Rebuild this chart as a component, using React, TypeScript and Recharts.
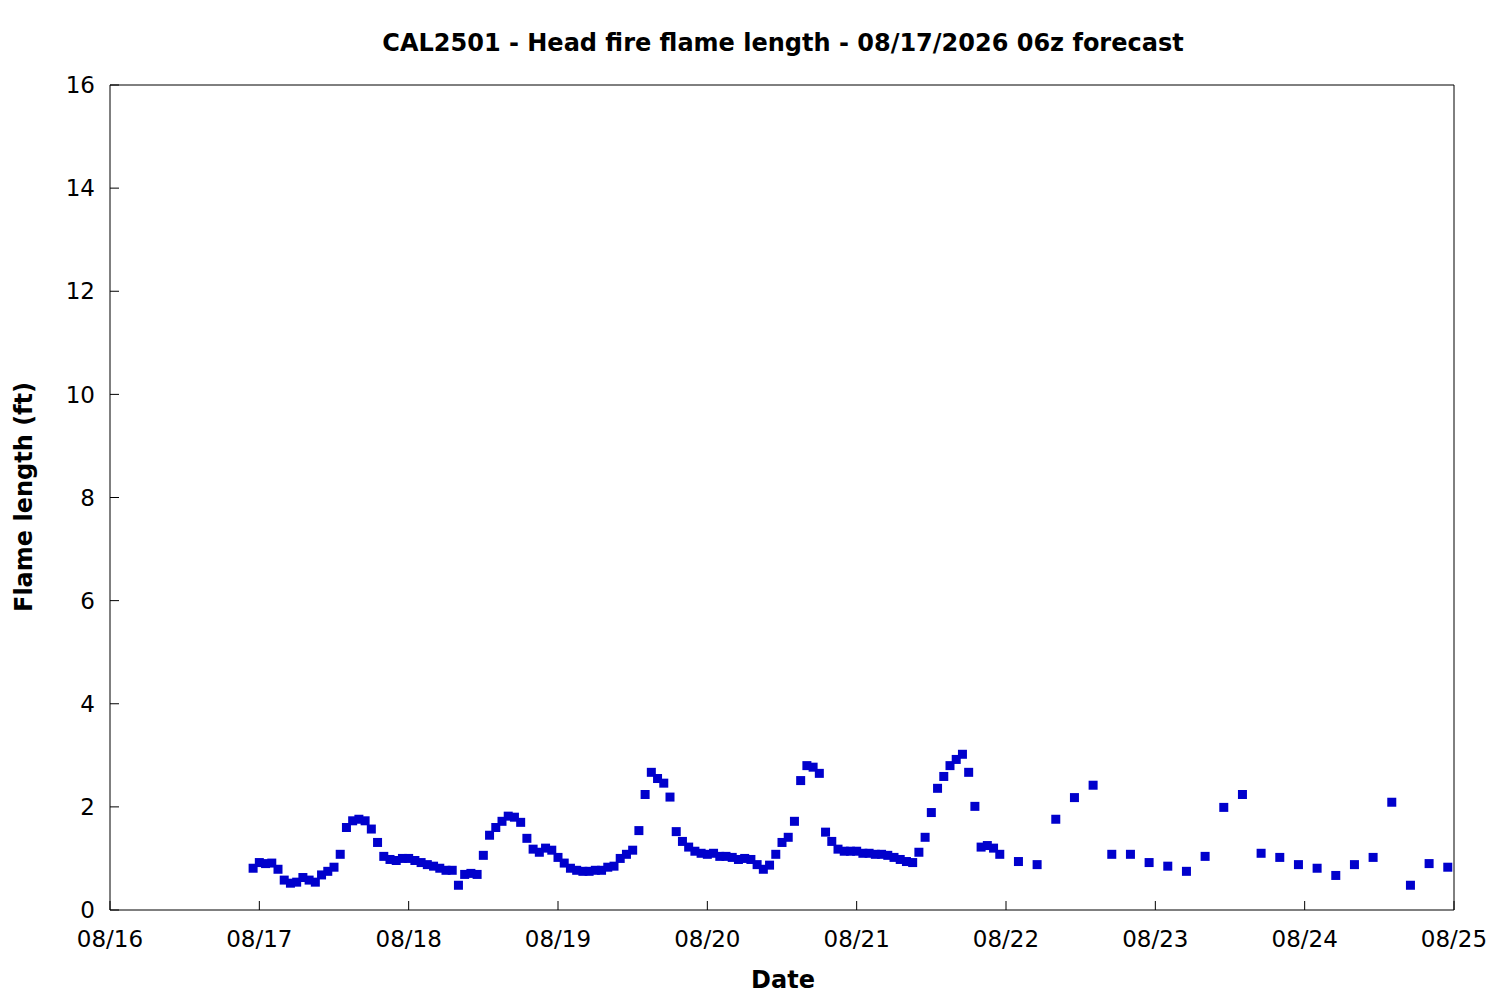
import { ScatterChart, Scatter, XAxis, YAxis } from 'recharts';

const chartTitle = 'CAL2501 - Head fire flame length - 08/17/2026 06z forecast';
const xTitle = 'Date';
const yTitle = 'Flame length (ft)';

// x axis: hours since 08/16 00z
const dateTicks = [0, 24, 48, 72, 96, 120, 144, 168, 192, 216];
const dateLabels = ['08/16', '08/17', '08/18', '08/19', '08/20', '08/21', '08/22', '08/23', '08/24', '08/25'];
const flameTicks = [0, 2, 4, 6, 8, 10, 12, 14, 16];

// forecast valid times (hours since 08/16 00z)
const forecastHours = [
  23,
  24, 25, 26, 27, 28, 29, 30, 31, 32, 33, 34, 35, 36, 37, 38, 39, 40, 41, 42, 43, 44, 45, 46, 47,
  48, 49, 50, 51, 52, 53, 54, 55, 56, 57, 58, 59, 60, 61, 62, 63, 64, 65, 66, 67, 68, 69, 70, 71,
  72, 73, 74, 75, 76, 77, 78, 79, 80, 81, 82, 83, 84, 85, 86, 87, 88, 89, 90, 91, 92, 93, 94, 95,
  96, 97, 98, 99, 100, 101, 102, 103, 104, 105, 106, 107, 108, 109, 110, 111, 112, 113, 114, 115, 116, 117, 118, 119,
  120, 121, 122, 123, 124, 125, 126, 127, 128, 129, 130, 131, 132, 133, 134, 135, 136, 137, 138, 139, 140, 141, 142, 143,
  146, 149, 152, 155, 158, 161, 164, 167,
  170, 173, 176, 179, 182, 185, 188, 191,
  194, 197, 200, 203, 206, 209, 212, 215,
];

// head fire flame length (ft)
const flameLength = [
  0.81,
  0.92, 0.90, 0.91, 0.79, 0.58, 0.52, 0.54, 0.63, 0.58, 0.54, 0.68, 0.75, 0.83, 1.08, 1.60, 1.73, 1.76, 1.73, 1.57, 1.31, 1.04, 0.98, 0.96, 1.00,
  1.00, 0.96, 0.92, 0.88, 0.85, 0.81, 0.77, 0.77, 0.48, 0.69, 0.71, 0.69, 1.06, 1.45, 1.60, 1.72, 1.82, 1.80, 1.70, 1.39, 1.18, 1.12, 1.20, 1.16,
  1.02, 0.91, 0.81, 0.77, 0.75, 0.75, 0.77, 0.77, 0.83, 0.85, 1.00, 1.08, 1.16, 1.54, 2.24, 2.67, 2.55, 2.46, 2.19, 1.52, 1.33, 1.22, 1.14, 1.10,
  1.08, 1.10, 1.04, 1.04, 1.02, 0.98, 1.00, 0.98, 0.88, 0.79, 0.87, 1.08, 1.31, 1.41, 1.72, 2.51, 2.80, 2.77, 2.65, 1.51, 1.33, 1.18, 1.14, 1.14,
  1.14, 1.10, 1.10, 1.08, 1.08, 1.06, 1.02, 0.98, 0.94, 0.92, 1.12, 1.41, 1.89, 2.36, 2.59, 2.80, 2.92, 3.02, 2.67, 2.01, 1.22, 1.25, 1.20, 1.08,
  0.94, 0.88, 1.76, 2.18, 2.42, 1.08, 1.08, 0.92,
  0.85, 0.75, 1.04, 1.99, 2.24, 1.10, 1.02, 0.88,
  0.81, 0.67, 0.88, 1.02, 2.09, 0.48, 0.90, 0.83,
];

const points = forecastHours.map((hour, i) => ({ hour, flame: flameLength[i] }));

const FONT = '"DejaVu Sans", Verdana, sans-serif';
const tickStyle = { fill: '#000', fontSize: 23, fontFamily: FONT };

const SquareMarker = (props: any) => {
  const { cx, cy } = props;
  if (cx == null || cy == null) return null;
  return <rect x={cx - 4.5} y={cy - 4.5} width={9} height={9} fill="#0000cc" />;
};

export default function App() {
  return (
    <div style={{ position: 'absolute', left: 0, top: 0, width: 1500, height: 1000, background: '#fff' }}>
      <ScatterChart width={1500} height={1000} margin={{ top: 55, right: 16, bottom: 30, left: 50 }}>
        <XAxis
          xAxisId="bottom"
          dataKey="hour"
          type="number"
          domain={[0, 216]}
          ticks={dateTicks}
          interval={0}
          allowDataOverflow
          tickFormatter={(v: number) => dateLabels[dateTicks.indexOf(v)]}
          height={60}
          stroke="#000"
          tickSize={-9}
          tickMargin={30}
          tick={tickStyle}
        />
        <XAxis
          xAxisId="top"
          orientation="top"
          type="number"
          domain={[0, 216]}
          ticks={dateTicks}
          interval={0}
          allowDataOverflow
          height={30}
          stroke="#000"
          tickSize={-9}
          tick={false}
        />
        <YAxis
          yAxisId="left"
          dataKey="flame"
          type="number"
          domain={[0, 16]}
          ticks={flameTicks}
          interval={0}
          allowDataOverflow
          width={60}
          stroke="#000"
          tickSize={-9}
          tickMargin={24}
          tick={tickStyle}
        />
        <YAxis
          yAxisId="right"
          orientation="right"
          type="number"
          domain={[0, 16]}
          ticks={flameTicks}
          interval={0}
          allowDataOverflow
          width={30}
          stroke="#000"
          tickSize={-9}
          tick={false}
        />
        <Scatter
          data={points}
          xAxisId="bottom"
          yAxisId="left"
          shape={SquareMarker}
          isAnimationActive={false}
        />
      </ScatterChart>
      <svg
        width={1500}
        height={1000}
        style={{ position: 'absolute', left: 0, top: 0, pointerEvents: 'none' }}
        fontFamily={FONT}
      >
        <text x={783} y={51} textAnchor="middle" fontSize={24} fontWeight="bold" fill="#000">
          {chartTitle}
        </text>
        <text x={783} y={988} textAnchor="middle" fontSize={24} fontWeight="bold" fill="#000">
          {xTitle}
        </text>
        <text
          x={32}
          y={497}
          textAnchor="middle"
          fontSize={24}
          fontWeight="bold"
          fill="#000"
          transform="rotate(-90 32 497)"
        >
          {yTitle}
        </text>
      </svg>
    </div>
  );
}
